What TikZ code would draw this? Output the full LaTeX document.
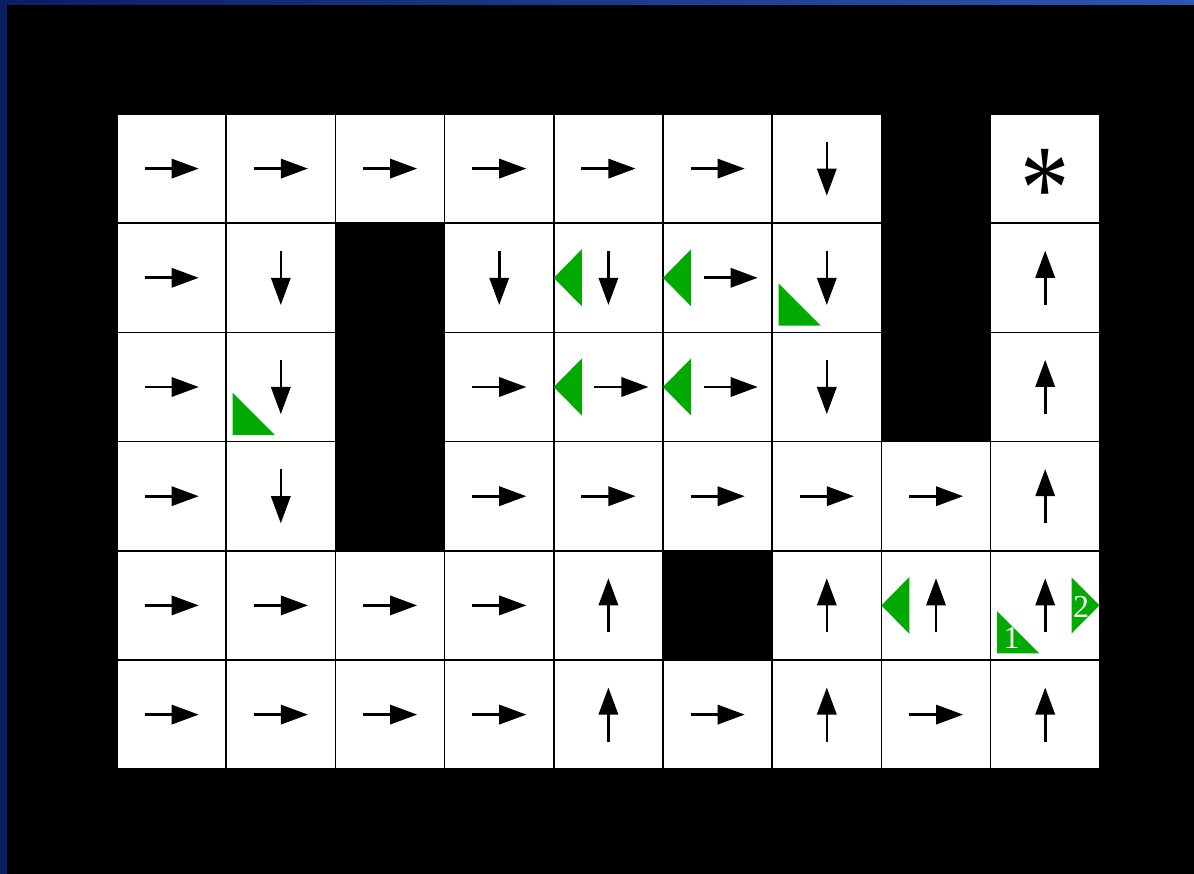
\documentclass[tikz,border=0pt]{standalone}
\usepackage{fontspec}
\setmainfont{Liberation Serif}
\usetikzlibrary{calc}
\definecolor{grn}{RGB}{0,170,0}
\definecolor{navyA}{RGB}{12,30,100}
\definecolor{navyB}{RGB}{45,85,180}
\tikzset{
  cellbox/.style={draw=black,line width=1.6pt,fill=white,minimum width=109.2pt,minimum height=109.2pt,inner sep=0pt,outer sep=0pt},
  sR/.style={}, sQ/.style={}, sD/.style={}, sU/.style={}, sS/.style={}, sW/.style={fill=black},
  shaft/.style={line width=2.6pt},
  pR/.pic={\draw[shaft] (-27,0)--(2,0); \fill (0,-10)--(27,0)--(0,10)--cycle;},
  pQ/.pic={\begin{scope}[shift={(13,0)}]\draw[shaft] (-27,0)--(2,0); \fill (0,-10)--(27,0)--(0,10)--cycle;\end{scope}},
  pD/.pic={\draw[shaft] (0,-27)--(0,2); \fill (-10,0)--(0,27)--(10,0)--cycle;},
  pU/.pic={\draw[shaft] (0,27)--(0,-2); \fill (-10,0)--(0,-27)--(10,0)--cycle;},
  pW/.pic={}, pS/.pic={},
  gleft/.pic={\fill[grn] (-54.6,0)--(-26.6,-28.5)--(-26.6,28.5)--cycle;},
  gright/.pic={\fill[grn] (26.4,-28)--(54.2,0)--(26.4,28)--cycle;},
  gcorner/.pic={\fill[grn] (-48.1,47.9)--(-48.1,5.9)--(-6.1,47.9)--cycle;},
  digit/.style={text=white,font=\fontsize{32}{32}\selectfont,inner sep=0pt},
}
\begin{document}
\begin{tikzpicture}[x=1pt,y=-1pt]
\useasboundingbox (0,0) rectangle (1194,874);
\shade[left color=navyA,right color=navyB] (0,0) rectangle (1194,874);
\fill[black] (7,5) rectangle (1194,874);
\foreach \row [count=\r from 0] in {{R,R,R,R,R,R,D,W,S},{R,D,W,D,D,Q,D,W,U},{R,D,W,R,Q,Q,D,W,U},{R,D,W,R,R,R,R,R,U},{R,R,R,R,U,W,U,U,U},{R,R,R,R,U,R,U,R,U}}{
  \foreach \t [count=\c from 0] in \row {
    \pgfmathsetmacro\cx{171.6+\c*109.2}
    \pgfmathsetmacro\cy{168.6+\r*109.2}
    \node[cellbox,s\t] (cell-\r-\c) at (\cx,\cy) {};
    \pic at (cell-\r-\c) {p\t};
  }
}
\node[font=\fontsize{120}{120}\selectfont,inner sep=0pt] (star) at ($(cell-0-8)+(0,21)$) {\scalebox{0.82}[1.02]{*}};
% green markers
\pic at (cell-1-4) {gleft};
\pic at (cell-1-5) {gleft};
\pic at (cell-2-4) {gleft};
\pic at (cell-2-5) {gleft};
\pic at (cell-4-7) {gleft};
\pic at (cell-1-6) {gcorner};
\pic at (cell-2-1) {gcorner};
\pic at (cell-4-8) {gcorner};
\pic at (cell-4-8) {gright};
\node[digit] (d1) at ($(cell-4-8)+(-33.6,32.4)$) {1};
\node[digit] (d2) at ($(cell-4-8)+(36,1.5)$) {2};
\end{tikzpicture}
\end{document}
